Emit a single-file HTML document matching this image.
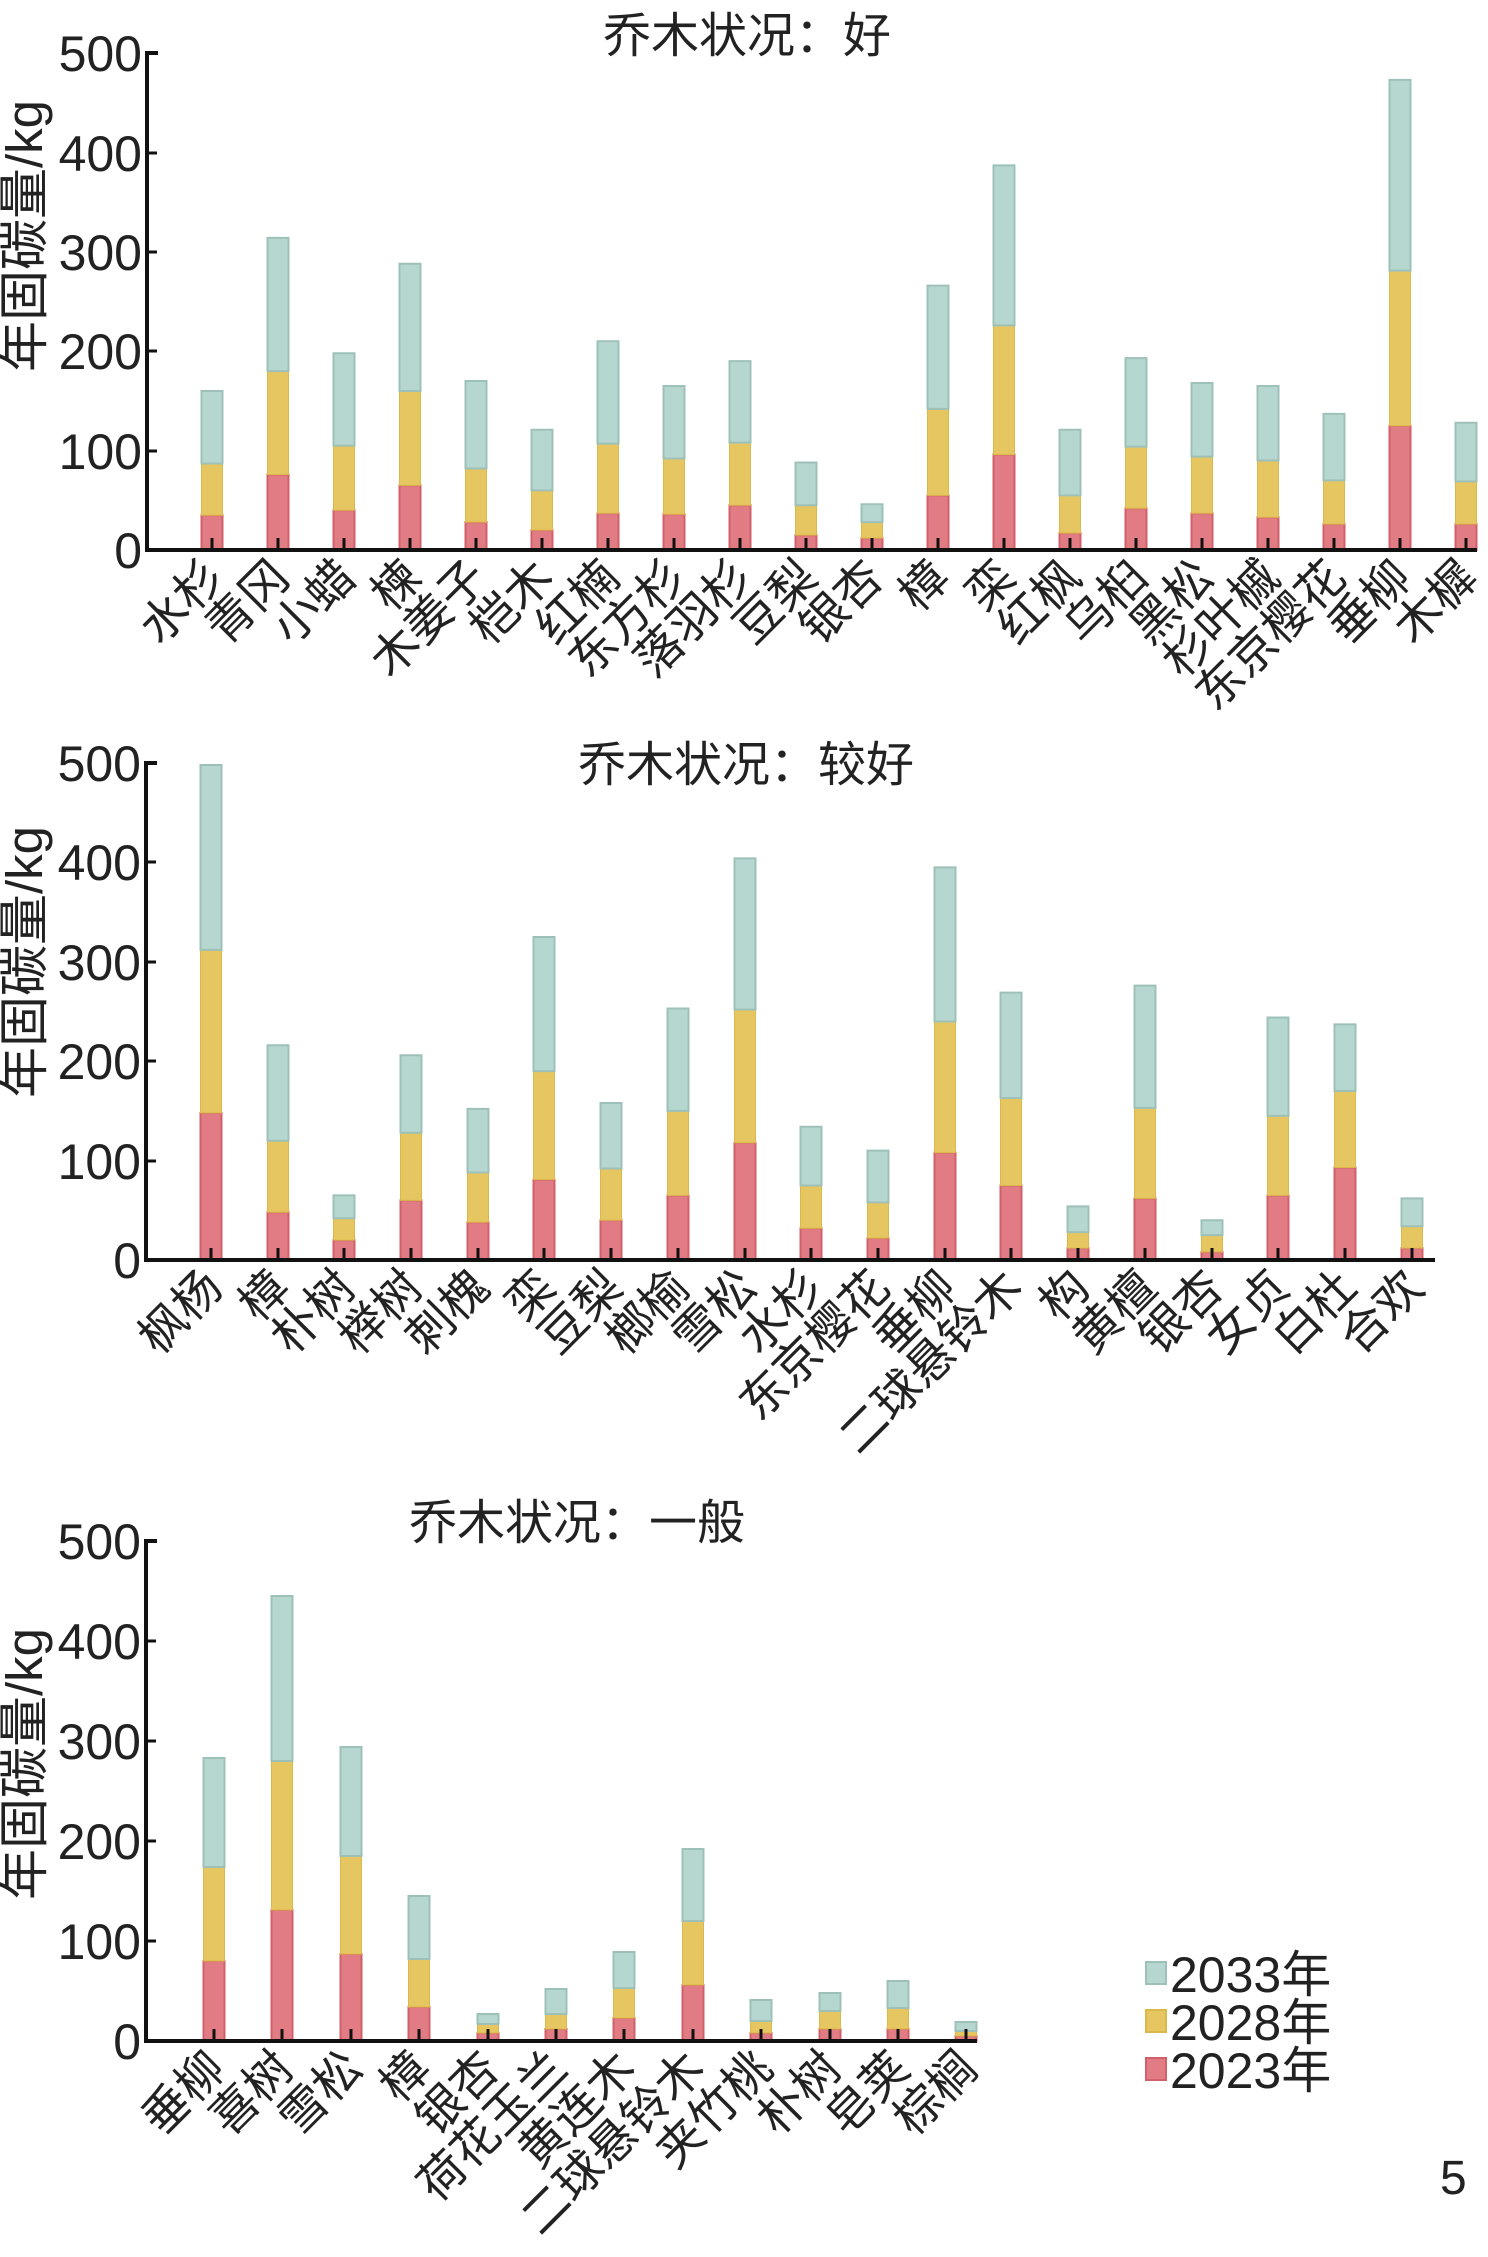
<!DOCTYPE html>
<html><head><meta charset="utf-8"><style>
html,body{margin:0;padding:0;background:#fff;}
svg{display:block;font-family:"Liberation Sans","Noto Sans CJK SC",sans-serif;}
.r{fill:#e27c84;stroke:#d2606a;stroke-width:2;vector-effect:non-scaling-stroke}
.y{fill:#e6c660;stroke:#dcb84a;stroke-width:1;vector-effect:non-scaling-stroke}
.t{fill:#b6d7d0;stroke:#9dc1b9;stroke-width:2;vector-effect:non-scaling-stroke}
.ax{stroke:#111;stroke-width:4;fill:none}
.tk{stroke:#111;stroke-width:3}
.yl{font-size:50px;fill:#222;text-anchor:end}
.xl{font-size:47px;fill:#222;text-anchor:end}
.ti{font-size:48px;fill:#222;text-anchor:middle}
.yt{font-size:51px;fill:#222;text-anchor:middle}
</style></head><body>
<svg width="1488" height="2257" viewBox="0 0 1488 2257" xmlns="http://www.w3.org/2000/svg">
<!-- ===== Chart 1 ===== -->
<text class="ti" x="747" y="52">乔木状况：好</text>
<text class="yt" transform="translate(42,236) rotate(-90)">年固碳量/kg</text>
<g transform="translate(0,550) scale(1,-0.994)">
<rect class="r" x="201.5" y="0" width="21" height="35"/><rect class="y" x="201.5" y="35" width="21" height="52"/><rect class="t" x="201.5" y="87" width="21" height="73"/>
<rect class="r" x="267.5" y="0" width="21" height="76"/><rect class="y" x="267.5" y="76" width="21" height="104"/><rect class="t" x="267.5" y="180" width="21" height="134"/>
<rect class="r" x="333.5" y="0" width="21" height="40"/><rect class="y" x="333.5" y="40" width="21" height="65"/><rect class="t" x="333.5" y="105" width="21" height="93"/>
<rect class="r" x="399.5" y="0" width="21" height="65"/><rect class="y" x="399.5" y="65" width="21" height="95"/><rect class="t" x="399.5" y="160" width="21" height="128"/>
<rect class="r" x="465.5" y="0" width="21" height="28"/><rect class="y" x="465.5" y="28" width="21" height="54"/><rect class="t" x="465.5" y="82" width="21" height="88"/>
<rect class="r" x="531.5" y="0" width="21" height="20"/><rect class="y" x="531.5" y="20" width="21" height="40"/><rect class="t" x="531.5" y="60" width="21" height="61"/>
<rect class="r" x="597.5" y="0" width="21" height="37"/><rect class="y" x="597.5" y="37" width="21" height="70"/><rect class="t" x="597.5" y="107" width="21" height="103"/>
<rect class="r" x="663.5" y="0" width="21" height="36"/><rect class="y" x="663.5" y="36" width="21" height="56"/><rect class="t" x="663.5" y="92" width="21" height="73"/>
<rect class="r" x="729.5" y="0" width="21" height="45"/><rect class="y" x="729.5" y="45" width="21" height="63"/><rect class="t" x="729.5" y="108" width="21" height="82"/>
<rect class="r" x="795.5" y="0" width="21" height="15"/><rect class="y" x="795.5" y="15" width="21" height="30"/><rect class="t" x="795.5" y="45" width="21" height="43"/>
<rect class="r" x="861.5" y="0" width="21" height="12"/><rect class="y" x="861.5" y="12" width="21" height="16"/><rect class="t" x="861.5" y="28" width="21" height="18"/>
<rect class="r" x="927.5" y="0" width="21" height="55"/><rect class="y" x="927.5" y="55" width="21" height="87"/><rect class="t" x="927.5" y="142" width="21" height="124"/>
<rect class="r" x="993.5" y="0" width="21" height="96"/><rect class="y" x="993.5" y="96" width="21" height="130"/><rect class="t" x="993.5" y="226" width="21" height="161"/>
<rect class="r" x="1059.5" y="0" width="21" height="17"/><rect class="y" x="1059.5" y="17" width="21" height="38"/><rect class="t" x="1059.5" y="55" width="21" height="66"/>
<rect class="r" x="1125.5" y="0" width="21" height="42"/><rect class="y" x="1125.5" y="42" width="21" height="62"/><rect class="t" x="1125.5" y="104" width="21" height="89"/>
<rect class="r" x="1191.5" y="0" width="21" height="37"/><rect class="y" x="1191.5" y="37" width="21" height="57"/><rect class="t" x="1191.5" y="94" width="21" height="74"/>
<rect class="r" x="1257.5" y="0" width="21" height="33"/><rect class="y" x="1257.5" y="33" width="21" height="57"/><rect class="t" x="1257.5" y="90" width="21" height="75"/>
<rect class="r" x="1323.5" y="0" width="21" height="26"/><rect class="y" x="1323.5" y="26" width="21" height="44"/><rect class="t" x="1323.5" y="70" width="21" height="67"/>
<rect class="r" x="1389.5" y="0" width="21" height="125"/><rect class="y" x="1389.5" y="125" width="21" height="156"/><rect class="t" x="1389.5" y="281" width="21" height="192"/>
<rect class="r" x="1455.5" y="0" width="21" height="26"/><rect class="y" x="1455.5" y="26" width="21" height="43"/><rect class="t" x="1455.5" y="69" width="21" height="59"/>
</g>
<path class="ax" d="M158,53 H147 V550 H1477"/>
<path class="tk" d="M147,153 h10 M147,252 h10 M147,351 h10 M147,451 h10 M212,550v-12 M278,550v-12 M344,550v-12 M410,550v-12 M476,550v-12 M542,550v-12 M608,550v-12 M674,550v-12 M740,550v-12 M806,550v-12 M872,550v-12 M938,550v-12 M1004,550v-12 M1070,550v-12 M1136,550v-12 M1202,550v-12 M1268,550v-12 M1334,550v-12 M1400,550v-12 M1466,550v-12"/>
<text class="yl" x="142" y="71">500</text><text class="yl" x="142" y="171">400</text><text class="yl" x="142" y="270">300</text><text class="yl" x="142" y="369">200</text><text class="yl" x="142" y="469">100</text><text class="yl" x="142" y="568">0</text>
<g class="xl">
<text transform="translate(226,580) rotate(-45)">水杉</text>
<text transform="translate(292,580) rotate(-45)">青冈</text>
<text transform="translate(358,580) rotate(-45)">小蜡</text>
<text transform="translate(424,580) rotate(-45)">楝</text>
<text transform="translate(490,580) rotate(-45)">木姜子</text>
<text transform="translate(556,580) rotate(-45)">桤木</text>
<text transform="translate(622,580) rotate(-45)">红楠</text>
<text transform="translate(688,580) rotate(-45)">东方杉</text>
<text transform="translate(754,580) rotate(-45)">落羽杉</text>
<text transform="translate(820,580) rotate(-45)">豆梨</text>
<text transform="translate(886,580) rotate(-45)">银杏</text>
<text transform="translate(952,580) rotate(-45)">樟</text>
<text transform="translate(1018,580) rotate(-45)">栾</text>
<text transform="translate(1084,580) rotate(-45)">红枫</text>
<text transform="translate(1150,580) rotate(-45)">乌桕</text>
<text transform="translate(1216,580) rotate(-45)">黑松</text>
<text transform="translate(1282,580) rotate(-45)">杉叶槭</text>
<text transform="translate(1348,580) rotate(-45)">东京樱花</text>
<text transform="translate(1414,580) rotate(-45)">垂柳</text>
<text transform="translate(1480,580) rotate(-45)">木樨</text>
</g>

<!-- ===== Chart 2 ===== -->
<g transform="translate(0,-6)">
<text class="ti" x="746" y="787">乔木状况：较好</text>
<text class="yt" transform="translate(42,968) rotate(-90)">年固碳量/kg</text>
<g transform="translate(0,1266) scale(1,-0.994)">
<rect class="r" x="200.5" y="0" width="21" height="148"/><rect class="y" x="200.5" y="148" width="21" height="164"/><rect class="t" x="200.5" y="312" width="21" height="186"/>
<rect class="r" x="267.5" y="0" width="21" height="48"/><rect class="y" x="267.5" y="48" width="21" height="72"/><rect class="t" x="267.5" y="120" width="21" height="96"/>
<rect class="r" x="333.5" y="0" width="21" height="20"/><rect class="y" x="333.5" y="20" width="21" height="22"/><rect class="t" x="333.5" y="42" width="21" height="23"/>
<rect class="r" x="400.5" y="0" width="21" height="60"/><rect class="y" x="400.5" y="60" width="21" height="68"/><rect class="t" x="400.5" y="128" width="21" height="78"/>
<rect class="r" x="467.5" y="0" width="21" height="38"/><rect class="y" x="467.5" y="38" width="21" height="50"/><rect class="t" x="467.5" y="88" width="21" height="64"/>
<rect class="r" x="533.5" y="0" width="21" height="81"/><rect class="y" x="533.5" y="81" width="21" height="109"/><rect class="t" x="533.5" y="190" width="21" height="135"/>
<rect class="r" x="600.5" y="0" width="21" height="40"/><rect class="y" x="600.5" y="40" width="21" height="52"/><rect class="t" x="600.5" y="92" width="21" height="66"/>
<rect class="r" x="667.5" y="0" width="21" height="65"/><rect class="y" x="667.5" y="65" width="21" height="85"/><rect class="t" x="667.5" y="150" width="21" height="103"/>
<rect class="r" x="734.5" y="0" width="21" height="118"/><rect class="y" x="734.5" y="118" width="21" height="134"/><rect class="t" x="734.5" y="252" width="21" height="152"/>
<rect class="r" x="800.5" y="0" width="21" height="32"/><rect class="y" x="800.5" y="32" width="21" height="43"/><rect class="t" x="800.5" y="75" width="21" height="59"/>
<rect class="r" x="867.5" y="0" width="21" height="22"/><rect class="y" x="867.5" y="22" width="21" height="36"/><rect class="t" x="867.5" y="58" width="21" height="52"/>
<rect class="r" x="934.5" y="0" width="21" height="108"/><rect class="y" x="934.5" y="108" width="21" height="132"/><rect class="t" x="934.5" y="240" width="21" height="155"/>
<rect class="r" x="1000.5" y="0" width="21" height="75"/><rect class="y" x="1000.5" y="75" width="21" height="88"/><rect class="t" x="1000.5" y="163" width="21" height="106"/>
<rect class="r" x="1067.5" y="0" width="21" height="12"/><rect class="y" x="1067.5" y="12" width="21" height="16"/><rect class="t" x="1067.5" y="28" width="21" height="26"/>
<rect class="r" x="1134.5" y="0" width="21" height="62"/><rect class="y" x="1134.5" y="62" width="21" height="91"/><rect class="t" x="1134.5" y="153" width="21" height="123"/>
<rect class="r" x="1201.5" y="0" width="21" height="8"/><rect class="y" x="1201.5" y="8" width="21" height="17"/><rect class="t" x="1201.5" y="25" width="21" height="15"/>
<rect class="r" x="1267.5" y="0" width="21" height="65"/><rect class="y" x="1267.5" y="65" width="21" height="80"/><rect class="t" x="1267.5" y="145" width="21" height="99"/>
<rect class="r" x="1334.5" y="0" width="21" height="93"/><rect class="y" x="1334.5" y="93" width="21" height="77"/><rect class="t" x="1334.5" y="170" width="21" height="67"/>
<rect class="r" x="1401.5" y="0" width="21" height="12"/><rect class="y" x="1401.5" y="12" width="21" height="22"/><rect class="t" x="1401.5" y="34" width="21" height="28"/>
</g>
<path class="ax" d="M157,769 H146 V1266 H1435"/>
<path class="tk" d="M146,868 h10 M146,968 h10 M146,1067 h10 M146,1167 h10 M211,1266v-12 M278,1266v-12 M344,1266v-12 M411,1266v-12 M478,1266v-12 M544,1266v-12 M611,1266v-12 M678,1266v-12 M745,1266v-12 M811,1266v-12 M878,1266v-12 M945,1266v-12 M1011,1266v-12 M1078,1266v-12 M1145,1266v-12 M1212,1266v-12 M1278,1266v-12 M1345,1266v-12 M1412,1266v-12"/>
<text class="yl" x="141" y="787">500</text><text class="yl" x="141" y="886">400</text><text class="yl" x="141" y="986">300</text><text class="yl" x="141" y="1085">200</text><text class="yl" x="141" y="1185">100</text><text class="yl" x="141" y="1284">0</text>
<g class="xl">
<text transform="translate(225,1296) rotate(-45)">枫杨</text>
<text transform="translate(292,1296) rotate(-45)">樟</text>
<text transform="translate(358,1296) rotate(-45)">朴树</text>
<text transform="translate(425,1296) rotate(-45)">榉树</text>
<text transform="translate(492,1296) rotate(-45)">刺槐</text>
<text transform="translate(558,1296) rotate(-45)">栾</text>
<text transform="translate(625,1296) rotate(-45)">豆梨</text>
<text transform="translate(692,1296) rotate(-45)">榔榆</text>
<text transform="translate(759,1296) rotate(-45)">雪松</text>
<text transform="translate(825,1296) rotate(-45)">水杉</text>
<text transform="translate(892,1296) rotate(-45)">东京樱花</text>
<text transform="translate(959,1296) rotate(-45)">垂柳</text>
<text transform="translate(1025,1296) rotate(-45)">二球悬铃木</text>
<text transform="translate(1092,1296) rotate(-45)">构</text>
<text transform="translate(1159,1296) rotate(-45)">黄檀</text>
<text transform="translate(1226,1296) rotate(-45)">银杏</text>
<text transform="translate(1292,1296) rotate(-45)">女贞</text>
<text transform="translate(1359,1296) rotate(-45)">白杜</text>
<text transform="translate(1426,1296) rotate(-45)">合欢</text>
</g>
</g>

<!-- ===== Chart 3 ===== -->
<g transform="translate(0,-6)">
<text class="ti" x="577" y="1545">乔木状况：一般</text>
<text class="yt" transform="translate(42,1770) rotate(-90)">年固碳量/kg</text>
<g transform="translate(0,2047) scale(1,-1)">
<rect class="r" x="203.5" y="0" width="21" height="80"/><rect class="y" x="203.5" y="80" width="21" height="94"/><rect class="t" x="203.5" y="174" width="21" height="109"/>
<rect class="r" x="271.5" y="0" width="21" height="131"/><rect class="y" x="271.5" y="131" width="21" height="149"/><rect class="t" x="271.5" y="280" width="21" height="165"/>
<rect class="r" x="340.5" y="0" width="21" height="87"/><rect class="y" x="340.5" y="87" width="21" height="98"/><rect class="t" x="340.5" y="185" width="21" height="109"/>
<rect class="r" x="408.5" y="0" width="21" height="34"/><rect class="y" x="408.5" y="34" width="21" height="48"/><rect class="t" x="408.5" y="82" width="21" height="63"/>
<rect class="r" x="477.5" y="0" width="21" height="8"/><rect class="y" x="477.5" y="8" width="21" height="9"/><rect class="t" x="477.5" y="17" width="21" height="10"/>
<rect class="r" x="545.5" y="0" width="21" height="12"/><rect class="y" x="545.5" y="12" width="21" height="15"/><rect class="t" x="545.5" y="27" width="21" height="25"/>
<rect class="r" x="613.5" y="0" width="21" height="23"/><rect class="y" x="613.5" y="23" width="21" height="30"/><rect class="t" x="613.5" y="53" width="21" height="36"/>
<rect class="r" x="682.5" y="0" width="21" height="56"/><rect class="y" x="682.5" y="56" width="21" height="64"/><rect class="t" x="682.5" y="120" width="21" height="72"/>
<rect class="r" x="750.5" y="0" width="21" height="8"/><rect class="y" x="750.5" y="8" width="21" height="12"/><rect class="t" x="750.5" y="20" width="21" height="21"/>
<rect class="r" x="819.5" y="0" width="21" height="12"/><rect class="y" x="819.5" y="12" width="21" height="18"/><rect class="t" x="819.5" y="30" width="21" height="18"/>
<rect class="r" x="887.5" y="0" width="21" height="12"/><rect class="y" x="887.5" y="12" width="21" height="21"/><rect class="t" x="887.5" y="33" width="21" height="27"/>
<rect class="r" x="955.5" y="0" width="21" height="5"/><rect class="y" x="955.5" y="5" width="21" height="5"/><rect class="t" x="955.5" y="10" width="21" height="9"/>
</g>
<path class="ax" d="M157,1547 H146 V2047 H977"/>
<path class="tk" d="M146,1647 h10 M146,1747 h10 M146,1847 h10 M146,1947 h10 M214,2047v-12 M282,2047v-12 M351,2047v-12 M419,2047v-12 M488,2047v-12 M556,2047v-12 M624,2047v-12 M693,2047v-12 M761,2047v-12 M830,2047v-12 M898,2047v-12 M966,2047v-12"/>
<text class="yl" x="141" y="1565">500</text><text class="yl" x="141" y="1665">400</text><text class="yl" x="141" y="1765">300</text><text class="yl" x="141" y="1865">200</text><text class="yl" x="141" y="1965">100</text><text class="yl" x="141" y="2065">0</text>
<g class="xl">
<text transform="translate(228,2077) rotate(-45)">垂柳</text>
<text transform="translate(296,2077) rotate(-45)">喜树</text>
<text transform="translate(365,2077) rotate(-45)">雪松</text>
<text transform="translate(433,2077) rotate(-45)">樟</text>
<text transform="translate(502,2077) rotate(-45)">银杏</text>
<text transform="translate(570,2077) rotate(-45)">荷花玉兰</text>
<text transform="translate(638,2077) rotate(-45)">黄连木</text>
<text transform="translate(707,2077) rotate(-45)">二球悬铃木</text>
<text transform="translate(775,2077) rotate(-45)">夹竹桃</text>
<text transform="translate(844,2077) rotate(-45)">朴树</text>
<text transform="translate(912,2077) rotate(-45)">皂荚</text>
<text transform="translate(980,2077) rotate(-45)">棕榈</text>
</g>
</g>

<!-- legend -->
<rect class="t" x="1146" y="1962" width="20" height="22"/>
<rect class="y" x="1146" y="2010" width="20" height="22" style="stroke-width:2"/>
<rect class="r" x="1146" y="2058" width="20" height="22"/>
<text x="1170" y="1992" font-size="50" fill="#222">2033年</text>
<text x="1170" y="2040" font-size="50" fill="#222">2028年</text>
<text x="1170" y="2088" font-size="50" fill="#222">2023年</text>
<text x="1440" y="2194" font-size="48" fill="#222">5</text>
</svg>
</body></html>
